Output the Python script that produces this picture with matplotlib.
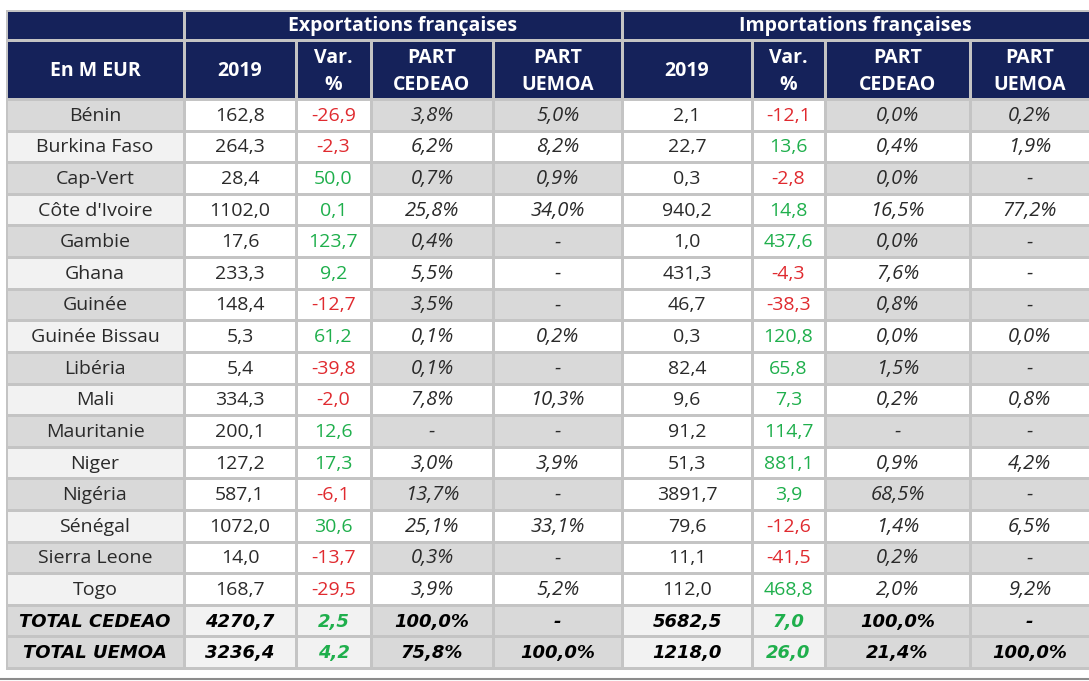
import matplotlib
matplotlib.use("Agg")
import matplotlib.pyplot as plt
from matplotlib.patches import Rectangle

# ---------------- data ----------------
countries = ["Bénin", "Burkina Faso", "Cap-Vert", "Côte d'Ivoire", "Gambie", "Ghana",
             "Guinée", "Guinée Bissau", "Libéria", "Mali", "Mauritanie", "Niger",
             "Nigéria", "Sénégal", "Sierra Leone", "Togo"]
exp_2019 = [162.8, 264.3, 28.4, 1102.0, 17.6, 233.3, 148.4, 5.3, 5.4, 334.3, 200.1,
            127.2, 587.1, 1072.0, 14.0, 168.7]
exp_var = [-26.9, -2.3, 50.0, 0.1, 123.7, 9.2, -12.7, 61.2, -39.8, -2.0, 12.6, 17.3,
           -6.1, 30.6, -13.7, -29.5]
exp_cedeao = [3.8, 6.2, 0.7, 25.8, 0.4, 5.5, 3.5, 0.1, 0.1, 7.8, None, 3.0, 13.7,
              25.1, 0.3, 3.9]
exp_uemoa = [5.0, 8.2, 0.9, 34.0, None, None, None, 0.2, None, 10.3, None, 3.9, None,
             33.1, None, 5.2]
imp_2019 = [2.1, 22.7, 0.3, 940.2, 1.0, 431.3, 46.7, 0.3, 82.4, 9.6, 91.2, 51.3,
            3891.7, 79.6, 11.1, 112.0]
imp_var = [-12.1, 13.6, -2.8, 14.8, 437.6, -4.3, -38.3, 120.8, 65.8, 7.3, 114.7,
           881.1, 3.9, -12.6, -41.5, 468.8]
imp_cedeao = [0.0, 0.4, 0.0, 16.5, 0.0, 7.6, 0.8, 0.0, 1.5, 0.2, None, 0.9, 68.5,
              1.4, 0.2, 2.0]
imp_uemoa = [0.2, 1.9, None, 77.2, None, None, None, 0.0, None, 0.8, None, 4.2, None,
             6.5, None, 9.2]

total_labels = ["TOTAL CEDEAO", "TOTAL UEMOA"]
tot_exp_2019 = [4270.7, 3236.4]
tot_exp_var = [2.5, 4.2]
tot_exp_cedeao = [100.0, 75.8]
tot_exp_uemoa = [None, 100.0]
tot_imp_2019 = [5682.5, 1218.0]
tot_imp_var = [7.0, 26.0]
tot_imp_cedeao = [100.0, 21.4]
tot_imp_uemoa = [None, 100.0]

group_titles = ["Exportations françaises", "Importations françaises"]
col_headers = ["En M EUR", "2019", "Var.\n%", "PART\nCEDEAO", "PART\nUEMOA",
               "2019", "Var.\n%", "PART\nCEDEAO", "PART\nUEMOA"]

# ---------------- styling ----------------
W, H = 1089, 681
NAVY = "#15225a"
GRID = "#c4c4c4"
GRAY = "#d9d9d9"
LIGHT = "#f2f2f2"
WHITE = "#ffffff"
RED = "#e02a2f"
GREEN = "#1faf4c"
TXT = "#2a2a2a"
FONT = ["Open Sans", "DejaVu Sans"]
TOT_FONT = ["DejaVu Sans"]
FS = 14
FS_IT = 14.5
FS_TOT = 13

col_edges = [6, 184, 296, 371, 493, 622, 752, 825, 970, 1092]
top_y = 10
head1_bot = 40.5
head2_bot = 99.5
body_bot = 668.5

fig = plt.figure(figsize=(W / 100, H / 100), dpi=100)
ax = fig.add_axes([0, 0, 1, 1])
ax.set_xlim(0, W)
ax.set_ylim(H, 0)
ax.axis("off")

# table background = grid colour
ax.add_patch(Rectangle((col_edges[0], top_y), col_edges[-1] - col_edges[0],
                       body_bot - top_y + 1.5, facecolor=GRID, edgecolor="none"))
gap = 1.5


def cell(x0, x1, y0, y1, color):
    ax.add_patch(Rectangle((x0 + gap, y0 + gap), x1 - x0 - 2 * gap, y1 - y0 - 2 * gap,
                           facecolor=color, edgecolor="none"))


def fmt(v, pct=False):
    if v is None:
        return "-"
    s = f"{v:.1f}".replace(".", ",")
    return s + "%" if pct else s


# header row 1
cell(col_edges[0], col_edges[1], top_y, head1_bot, NAVY)
cell(col_edges[1], col_edges[5], top_y, head1_bot, NAVY)
cell(col_edges[5], col_edges[9], top_y, head1_bot, NAVY)
ymid1 = (top_y + head1_bot) / 2 + 0.5
ax.text((col_edges[1] + col_edges[5]) / 2, ymid1, group_titles[0], color="white",
        fontsize=FS, fontweight="bold", family=FONT, ha="center", va="center")
ax.text((col_edges[5] + col_edges[9] - 3) / 2, ymid1, group_titles[1], color="white",
        fontsize=FS, fontweight="bold", family=FONT, ha="center", va="center")

# header row 2
ymid2 = (head1_bot + head2_bot) / 2 + 1.5
for i, lab in enumerate(col_headers):
    x0, x1 = col_edges[i], col_edges[i + 1]
    cell(x0, x1, head1_bot, head2_bot, NAVY)
    xc = (x0 + x1) / 2 if i < 8 else (x0 + 1089) / 2
    ax.text(xc, ymid2, lab, color="white", fontsize=FS, fontweight="bold",
            family=FONT, ha="center", va="center", linespacing=1.45)

# body
n_rows = len(countries) + len(total_labels)
row_h = (body_bot - head2_bot) / n_rows

rows = []
for i, c in enumerate(countries):
    rows.append((c, [exp_2019[i], exp_var[i], exp_cedeao[i], exp_uemoa[i],
                     imp_2019[i], imp_var[i], imp_cedeao[i], imp_uemoa[i]], False))
for i, c in enumerate(total_labels):
    rows.append((c, [tot_exp_2019[i], tot_exp_var[i], tot_exp_cedeao[i], tot_exp_uemoa[i],
                     tot_imp_2019[i], tot_imp_var[i], tot_imp_cedeao[i], tot_imp_uemoa[i]],
                 True))


def put(x, y, s, color, italic, total):
    if total:
        ax.text(x, y, s, color=color, fontsize=FS_TOT, fontweight="bold",
                style="oblique", family=TOT_FONT, ha="center", va="center")
    else:
        ax.text(x, y, s, color=color, fontsize=FS_IT if italic else FS,
                style="italic" if italic else "normal",
                family=FONT, ha="center", va="center")


for r, (label, vals, is_total) in enumerate(rows):
    y0 = head2_bot + r * row_h
    y1 = y0 + row_h
    ym = (y0 + y1) / 2 + 0.5
    odd = (r % 2 == 0)
    # label column
    cell(col_edges[0], col_edges[1], y0, y1, GRAY if (odd or is_total) else LIGHT)
    put((col_edges[0] + col_edges[1]) / 2, ym, label,
        "black" if is_total else TXT, False, is_total)
    for j, v in enumerate(vals):
        ci = j + 1
        x0, x1 = col_edges[ci], col_edges[ci + 1]
        kind = j % 4  # 0: 2019, 1: var, 2: part cedeao, 3: part uemoa
        if kind in (0, 1):
            bg = LIGHT if is_total else WHITE
        else:
            bg = GRAY if (odd or is_total) else WHITE
        cell(x0, x1, y0, y1, bg)
        if kind == 1:
            color = RED if v < 0 else GREEN
            txt = fmt(v)
        elif kind == 0:
            color = "black" if is_total else TXT
            txt = fmt(v)
        else:
            color = "black" if is_total else TXT
            txt = fmt(v, pct=True)
        xc = (x0 + x1) / 2 if ci < 8 else (x0 + 1089) / 2
        put(xc, ym, txt, color, kind >= 2, is_total)

# bottom rule
ax.plot([0, W], [678.5, 678.5], color="#8c8c8c", lw=1.5)

fig.savefig("out.png", dpi=100)
